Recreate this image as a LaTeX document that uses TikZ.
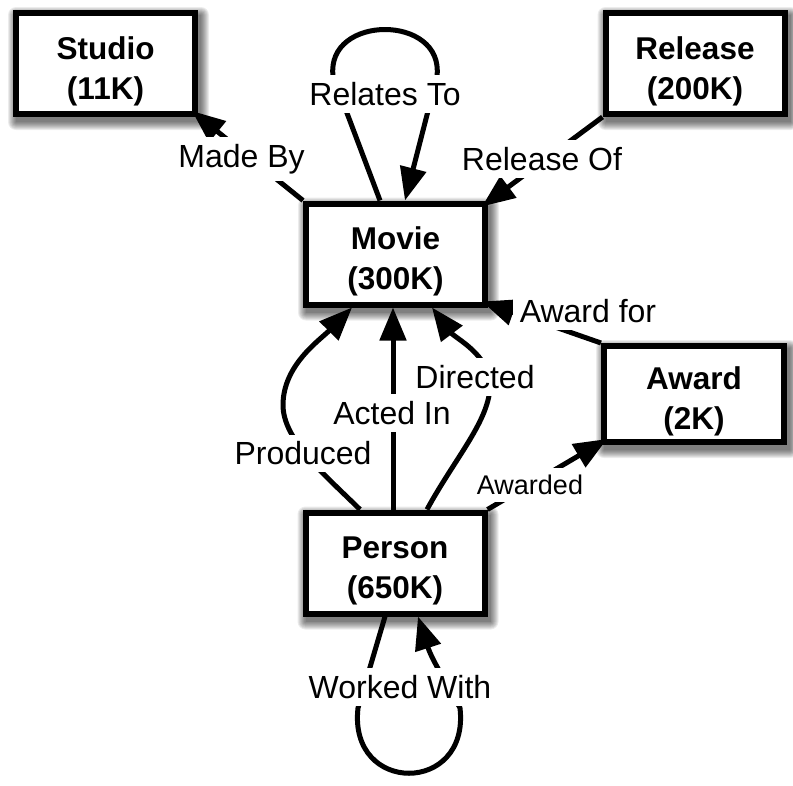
\documentclass[tikz,border=0pt]{standalone}
\usepackage{fontspec}
\setmainfont{Liberation Sans}
\usetikzlibrary{arrows.meta,calc}
\pgfdeclarelayer{shade}
\pgfdeclarelayer{edges}
\pgfsetlayers{shade,edges,main}
\tikzset{
  entity/.style={draw=black, line width=6pt, fill=white,
    minimum width=179pt, minimum height=101pt, inner sep=0pt,
    align=center, font=\bfseries\fontsize{31.5}{40}\selectfont},
  rel/.style={fill=white, inner sep=7pt, font=\fontsize{32}{37}\selectfont},
  link/.style={line width=5pt, -{Triangle[length=33pt,width=26pt]}},
  softshade/.style={fill=black, opacity=0.075},
}
\newcommand{\tall}{\rule{0pt}{38pt}}
\begin{document}
\begin{tikzpicture}[x=1pt,y=-1pt]
\useasboundingbox (0,0) rectangle (793,785);

% entities
\node[entity] (studio)  at (105.5,63.5) {\tall Studio\\(11K)};
\node[entity] (release) at (695,63.5)   {\tall Release\\(200K)};
\node[entity] (movie)   at (395.5,254)  {\tall Movie\\(300K)};
\node[entity, minimum width=180pt, minimum height=96pt]
              (award)   at (694,394)    {\tall Award\\(2K)};
\node[entity] (person)  at (395,563)    {\tall Person\\(650K)};

% soft drop shadows under the entities
\begin{pgfonlayer}{shade}
\foreach \b in {studio,release,movie,award,person}{
  \foreach \i in {0,...,8}{
    \fill[softshade, rounded corners=\i pt]
      ($(\b.north west)+(3-\i,5-\i)$) rectangle ($(\b.south east)+(3+\i,5+\i)$);
  }
}
\end{pgfonlayer}

% relationship labels
\node[rel] (lblMadeBy)   at (241.5,159) {Made By};
\node[rel] (lblRelates)  at (385,94)    {Relates To};
\node[rel] (lblRelease)  at (542,159)   {Release Of};
\node[rel] (lblAwardFor) at (588,311)   {Award for};
\node[rel] (lblProduced) at (303,453.5) {Produced};
\node[rel] (lblActed)    at (392,413)   {Acted In};
\node[rel] (lblDirected) at (475,377)   {Directed};
\node[rel, font=\fontsize{27}{32}\selectfont]
           (lblAwarded)  at (530,485)   {Awarded};
\node[rel] (lblWorked)   at (400,687)   {Worked With};

% relationships, drawn beneath entities and labels
\begin{pgfonlayer}{edges}
\draw[link] (movie.north west) -- ($(studio.south east)+(-6,-6)$);
\draw[link] ([xshift=-15.5pt]movie.north) -- (333,76)
  .. controls (326,14) and (444,14) .. (437,76)
  -- ([xshift=9.5pt]movie.north);
\draw[link] (release.south west) -- ($(movie.north east)+(-6,6)$);
\draw[link] (award.north west) -- ($(movie.south east)+(-6,-6)$);
\draw[link] ([xshift=-35pt]person.north)
  .. controls (325,475) and (283,440) .. (283,405)
  .. controls (283,365) and (320,340) .. ([xshift=-43.5pt]movie.south);
\draw[link] ([xshift=-2pt]person.north) -- ([xshift=-2.5pt]movie.south);
\draw[link] ([xshift=32pt]person.north)
  .. controls (455,458) and (490,420) .. (490,385)
  .. controls (490,355) and (455,338) .. ([xshift=36.5pt]movie.south);
\draw[link] (person.north east) -- ($(award.south west)+(6,-6)$);
\draw[link] ([xshift=-10pt]person.south) -- (358,708)
  .. controls (348,795) and (470,795) .. (460,708)
  .. controls (445,680) and (432,660) .. ([xshift=23pt]person.south);
\end{pgfonlayer}
\end{tikzpicture}
\end{document}
